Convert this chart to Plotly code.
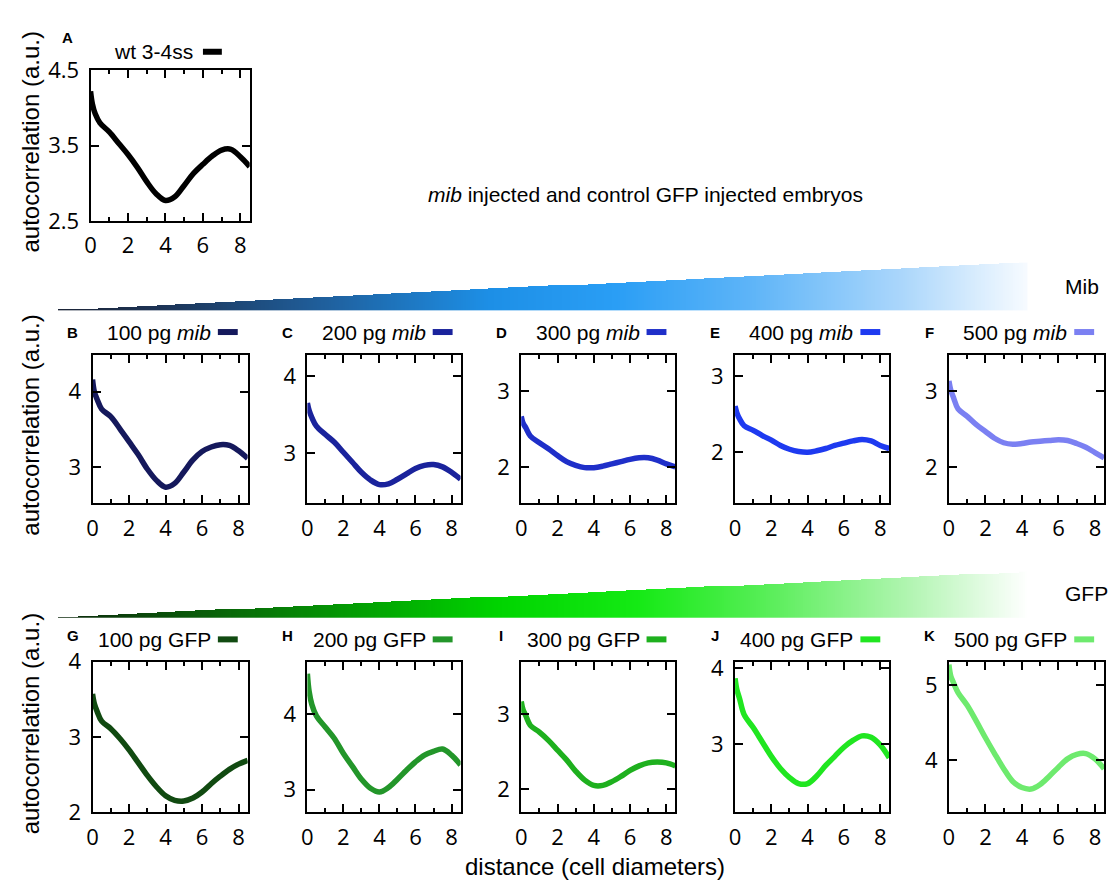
import plotly.graph_objects as go

# ---------------- data ----------------
DIST = [0, 0.1, 0.25, 0.5, 1, 1.5, 2, 2.5, 3, 3.5, 4, 4.5, 5, 5.5, 6, 6.5, 7, 7.5, 8, 8.5]

WT_3_4SS = [4.22, 4.05, 3.92, 3.80, 3.68, 3.53, 3.38, 3.21, 3.02, 2.86, 2.77, 2.82, 2.97, 3.13, 3.25, 3.36, 3.44, 3.45, 3.35, 3.22]
MIB_100 = [4.16, 4.00, 3.90, 3.77, 3.67, 3.51, 3.34, 3.17, 2.98, 2.83, 2.74, 2.79, 2.94, 3.10, 3.21, 3.27, 3.30, 3.29, 3.22, 3.12]
MIB_200 = [3.65, 3.55, 3.46, 3.35, 3.24, 3.14, 3.01, 2.88, 2.75, 2.65, 2.59, 2.60, 2.66, 2.73, 2.80, 2.84, 2.85, 2.82, 2.75, 2.66]
MIB_300 = [2.67, 2.58, 2.52, 2.41, 2.32, 2.24, 2.15, 2.07, 2.02, 1.99, 1.99, 2.01, 2.04, 2.07, 2.10, 2.12, 2.12, 2.09, 2.04, 2.00]
MIB_400 = [2.61, 2.52, 2.44, 2.35, 2.29, 2.22, 2.16, 2.09, 2.04, 2.01, 2.00, 2.02, 2.05, 2.09, 2.12, 2.15, 2.17, 2.15, 2.09, 2.05]
MIB_500 = [3.14, 3.02, 2.92, 2.77, 2.67, 2.56, 2.47, 2.38, 2.32, 2.30, 2.31, 2.33, 2.34, 2.35, 2.36, 2.35, 2.31, 2.26, 2.19, 2.12]
GFP_100 = [3.57, 3.44, 3.34, 3.21, 3.11, 2.98, 2.83, 2.66, 2.49, 2.34, 2.22, 2.16, 2.15, 2.19, 2.27, 2.38, 2.48, 2.57, 2.64, 2.69]
GFP_200 = [4.54, 4.30, 4.13, 3.98, 3.83, 3.68, 3.48, 3.31, 3.14, 3.02, 2.97, 3.03, 3.14, 3.26, 3.37, 3.46, 3.51, 3.54, 3.46, 3.33]
GFP_300 = [3.17, 3.06, 2.98, 2.85, 2.76, 2.65, 2.52, 2.39, 2.24, 2.12, 2.05, 2.05, 2.10, 2.17, 2.25, 2.31, 2.35, 2.36, 2.35, 2.31]
GFP_400 = [3.87, 3.72, 3.60, 3.39, 3.22, 3.03, 2.84, 2.68, 2.56, 2.48, 2.48, 2.58, 2.72, 2.84, 2.96, 3.05, 3.11, 3.09, 2.99, 2.82]
GFP_500 = [5.27, 5.12, 5.03, 4.90, 4.73, 4.52, 4.30, 4.09, 3.89, 3.72, 3.64, 3.62, 3.68, 3.79, 3.91, 4.02, 4.08, 4.09, 4.02, 3.89]

PANEL_LETTERS = ["A", "B", "C", "D", "E", "F", "G", "H", "I", "J", "K"]
PANEL_TITLES = ["wt 3-4ss",
                "100 pg <i>mib</i>", "200 pg <i>mib</i>", "300 pg <i>mib</i>", "400 pg <i>mib</i>", "500 pg <i>mib</i>",
                "100 pg GFP", "200 pg GFP", "300 pg GFP", "400 pg GFP", "500 pg GFP"]
PANEL_SERIES = [WT_3_4SS, MIB_100, MIB_200, MIB_300, MIB_400, MIB_500,
                GFP_100, GFP_200, GFP_300, GFP_400, GFP_500]
Y_RANGES = [[2.5, 4.5], [2.53, 4.48], [2.35, 4.27], [1.52, 3.48], [1.33, 3.28], [1.52, 3.48],
            [2.0, 4.0], [2.7, 4.7], [1.69, 3.7], [2.1, 4.09], [3.31, 5.31]]
Y_TICKS = [[2.5, 3.5, 4.5], [3, 4], [3, 4], [2, 3], [2, 3], [2, 3],
           [2, 3, 4], [3, 4], [2, 3], [3, 4], [4, 5]]
Y_TICKTEXT = [["2.5", "3.5", "4.5"], ["3", "4"], ["3", "4"], ["2", "3"], ["2", "3"], ["2", "3"],
              ["2", "3", "4"], ["3", "4"], ["2", "3"], ["3", "4"], ["4", "5"]]
X_TICKS = [0, 2, 4, 6, 8]
X_MINOR = [1, 3, 5, 7]
X_RANGE = [0, 8.5]

TITLE_MAIN = "<i>mib</i> injected and control GFP injected embryos"
Y_TITLE = "autocorrelation (a.u.)"
X_TITLE = "distance (cell diameters)"

# ---------------- styles / layout ----------------
W, H = 1120, 895
COLORS = ["#000000",
          "#15195c", "#1a239c", "#1f2fc9", "#1e3af0", "#7b80f2",
          "#114a11", "#23962a", "#1eb01e", "#20e620", "#6eea6e"]

COLS = [(87, 243), (303, 457), (518, 673), (733, 888), (948, 1104)]
ROW2 = (351, 504)
ROW3 = (668, 824)
BOXES = [((85, 245), (56, 212))] + [(c, ROW2) for c in COLS] + [(c, ROW3) for c in COLS]
TITLE_Y = [37] + [327] * 5 + [645] * 5
LETTER_Y = [22] + [327] * 5 + [641] * 5

MIB_STOPS = [[0, "#1b2233"], [0.12, "#1d3558"], [0.28, "#1f5f9c"], [0.45, "#1d8fe6"],
             [0.58, "#2a9ef5"], [0.72, "#5fb5f8"], [0.87, "#aad6fb"], [1, "#f7fbff"]]
GFP_STOPS = [[0, "#0c240c"], [0.15, "#0a5a0a"], [0.32, "#03a003"], [0.46, "#00d400"],
             [0.6, "#14ea14"], [0.74, "#5cee5c"], [0.88, "#b2f5b2"], [1, "#ffffff"]]

TICK_FONT = dict(family="Open Sans", size=22, color="black")
TEXT_FONT = "Liberation Sans"


def px(x):
    return x / W


def py(y):
    return 1 - y / H


fig = go.Figure()
layout = dict(width=W, height=H, autosize=False,
              margin=dict(l=0, r=0, t=0, b=0),
              paper_bgcolor="white", plot_bgcolor="rgba(0,0,0,0)",
              showlegend=False)
annotations = []
shapes = []

for i in range(11):
    n = i + 1
    sfx = "" if n == 1 else str(n)
    (l, r), (t, b) = BOXES[i]
    fig.add_trace(go.Scatter(
        x=DIST, y=PANEL_SERIES[i], mode="lines",
        line=dict(color=COLORS[i], width=5.5, shape="spline", smoothing=1.0),
        xaxis="x" + sfx, yaxis="y" + sfx, hoverinfo="skip"))
    common = dict(showline=True, linecolor="black", linewidth=2, mirror="ticks",
                  ticks="inside", tickwidth=2, tickcolor="black", showgrid=False,
                  zeroline=False, tickfont=TICK_FONT, fixedrange=True)
    layout["xaxis" + sfx] = dict(domain=[px(l), px(r)], anchor="y" + sfx, range=X_RANGE,
                                 tickmode="array", tickvals=X_TICKS,
                                 ticktext=[str(v) for v in X_TICKS], ticklen=8,
                                 ticklabelstandoff=4,
                                 minor=dict(tickmode="array", tickvals=X_MINOR, ticks="inside",
                                            ticklen=4, tickwidth=2, tickcolor="black", showgrid=False),
                                 **common)
    layout["yaxis" + sfx] = dict(domain=[py(b), py(t)], anchor="x" + sfx, range=Y_RANGES[i],
                                 tickmode="array", tickvals=Y_TICKS[i], ticktext=Y_TICKTEXT[i],
                                 ticklen=8, ticklabelstandoff=5, **common)
    # panel letter
    letter_x = l - 20 if i > 0 else 62
    annotations.append(dict(x=px(letter_x), y=py(LETTER_Y[i]), xref="paper", yref="paper",
                            text="<b>" + PANEL_LETTERS[i] + "</b>", showarrow=False,
                            xanchor="center", yanchor="middle",
                            font=dict(family=TEXT_FONT, size=15, color="black")))
    # title + legend sample
    if i == 0:
        tx, s0, s1 = 190, 198, 217
    else:
        tx, s0, s1 = l + 121, l + 126, l + 146
    annotations.append(dict(x=px(tx), y=py(TITLE_Y[i]), xref="paper", yref="paper",
                            text=PANEL_TITLES[i], showarrow=False,
                            xanchor="right", yanchor="middle",
                            font=dict(family=TEXT_FONT, size=21, color="black")))
    shapes.append(dict(type="line", xref="paper", yref="paper",
                       x0=px(s0), x1=px(s1), y0=py(TITLE_Y[i]), y1=py(TITLE_Y[i]),
                       line=dict(color=COLORS[i], width=6)))

# ---------------- dose wedges (gradient) ----------------
NX, NY = 492, 50
ramp = [k / (NX - 1) for k in range(NX)]
heights = [(j + 0.5) / NY for j in range(NY)]
wedge_z = [[t if h <= t else None for t in ramp] for h in heights]

WEDGES = [("12", MIB_STOPS, (43, 1027), (255, 305)),
          ("13", GFP_STOPS, (43, 1027), (575, 623))]
for sfx, stops, (l, r), (t, b) in WEDGES:
    fig.add_trace(go.Heatmap(x=ramp, y=heights, z=wedge_z, colorscale=stops,
                             zmin=0, zmax=1, showscale=False, zsmooth=False,
                             hoverinfo="skip", xaxis="x" + sfx, yaxis="y" + sfx))
    layout["xaxis" + sfx] = dict(domain=[px(l), px(r)], anchor="y" + sfx, range=[0, 1],
                                 visible=False, fixedrange=True)
    layout["yaxis" + sfx] = dict(domain=[py(b), py(t)], anchor="x" + sfx, range=[0, 1],
                                 visible=False, fixedrange=True)

annotations += [
    dict(x=px(1063), y=py(280), xref="paper", yref="paper", text="Mib", showarrow=False,
         xanchor="left", yanchor="middle", font=dict(family=TEXT_FONT, size=21, color="black")),
    dict(x=px(1063), y=py(598), xref="paper", yref="paper", text="GFP", showarrow=False,
         xanchor="left", yanchor="middle", font=dict(family=TEXT_FONT, size=21, color="black")),
    dict(x=px(643), y=py(185), xref="paper", yref="paper", text=TITLE_MAIN, showarrow=False,
         xanchor="center", yanchor="middle", font=dict(family=TEXT_FONT, size=21, color="black")),
    dict(x=px(592), y=py(880), xref="paper", yref="paper", text=X_TITLE, showarrow=False,
         xanchor="center", yanchor="middle", font=dict(family=TEXT_FONT, size=24, color="black")),
]
for cy in (130, 423, 732):
    annotations.append(dict(x=px(25), y=py(cy), xref="paper", yref="paper", text=Y_TITLE,
                            showarrow=False, textangle=-90, xanchor="center", yanchor="middle",
                            font=dict(family=TEXT_FONT, size=24, color="black")))

layout["annotations"] = annotations
layout["shapes"] = shapes
fig.update_layout(**layout)
fig.write_html("out.html")
